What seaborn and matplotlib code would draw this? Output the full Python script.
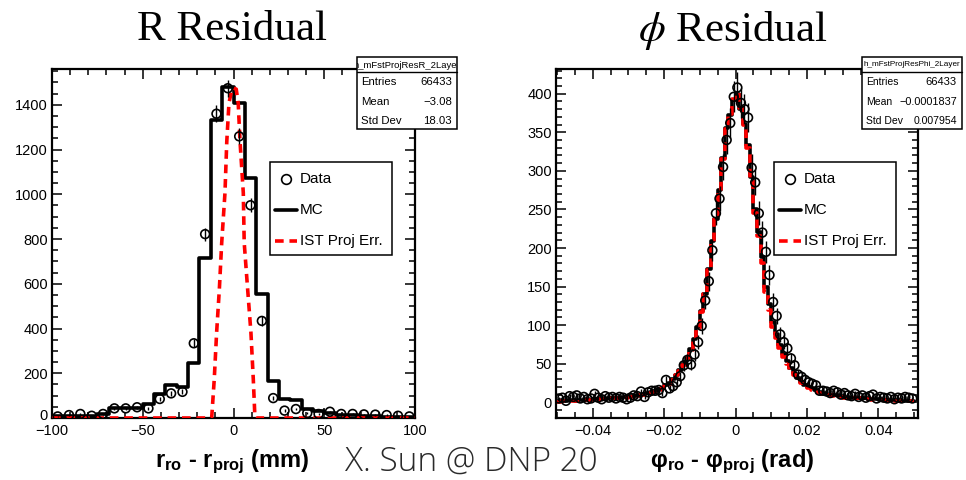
import numpy as np
import pandas as pd
import matplotlib
matplotlib.use("Agg")
import matplotlib.pyplot as plt
import matplotlib.transforms as mtransforms
import seaborn as sns
from matplotlib.patches import Rectangle
from matplotlib.lines import Line2D
from matplotlib.ticker import MultipleLocator, FuncFormatter

# ---------------- data ----------------
# R residual: 32 bins from -100 to 100 mm
r_range = (-100, 100)
r_nbins = 32
r_data = [7, 13, 18, 10, 18, 43, 43, 48, 43, 85, 110, 117, 334, 822, 1360, 1474,
          1259, 951, 434, 89, 33, 40, 22, 18, 28, 18, 18, 16, 15, 13, 10, 7]
r_mc = [8, 8, 8, 10, 18, 45, 45, 45, 62, 107, 147, 140, 248, 716, 1333, 1481,
        1407, 1073, 553, 166, 85, 80, 40, 30, 22, 15, 12, 10, 8, 6, 5, 5]
r_ist_x = [-100, -12.5, -12.0, -10.6, -9.3, -7.8, -6.5, -4.7, -3.7, -2.5, -1.0, 0.0,
           1.5, 2.6, 3.6, 5.4, 5.9, 7.8, 9.6, 10.9, 11.8, 12.3, 100]
r_ist_y = [0, 0, 3, 174, 382, 575, 783, 1006, 1236, 1407, 1467, 1475,
           1470, 1407, 1236, 1006, 783, 575, 382, 174, 3, 0, 0]

# phi residual: 100 bins from -0.05 to 0.05 rad
phi_range = (-0.05, 0.05)
phi_nbins = 100
phi_data = [5, 6, 2, 8, 7, 9, 5, 7, 4, 5,
            11, 6, 4, 8, 6, 7, 5, 7, 6, 4,
            6, 9, 8, 14, 7, 13, 15, 15, 16, 12,
            29, 18, 21, 26, 34, 48, 55, 49, 62, 78,
            99, 132, 157, 197, 245, 264, 305, 340, 362, 396,
            408, 388, 380, 369, 304, 285, 245, 220, 195, 165,
            130, 112, 88, 78, 70, 57, 48, 36, 33, 29,
            26, 24, 22, 15, 15, 14, 12, 15, 13, 10,
            12, 9, 8, 11, 7, 9, 6, 8, 10, 5,
            7, 6, 5, 7, 4, 6, 5, 7, 6, 5]
phi_mc = [2, 3, 2, 3, 3, 2, 3, 3, 4, 3,
          4, 4, 5, 4, 5, 6, 5, 6, 7, 7,
          8, 8, 9, 10, 11, 12, 13, 15, 17, 19,
          22, 25, 30, 36, 42, 50, 58, 69, 82, 97,
          118, 141, 173, 209, 238, 275, 317, 355, 373, 392,
          400, 380, 361, 333, 292, 250, 221, 188, 150, 127,
          104, 89, 74, 62, 53, 45, 38, 32, 27, 23,
          20, 18, 16, 14, 12, 11, 10, 9, 9, 8,
          7, 7, 6, 6, 5, 5, 5, 4, 4, 4,
          4, 3, 3, 3, 3, 3, 2, 2, 2, 2]
phi_ist = [1, 2, 2, 2, 2, 2, 2, 3, 3, 3,
           3, 3, 4, 4, 4, 5, 5, 5, 6, 6,
           7, 7, 8, 9, 10, 11, 12, 14, 16, 18,
           21, 24, 29, 35, 41, 49, 57, 68, 81, 96,
           117, 140, 172, 208, 238, 274, 316, 354, 374, 393,
           401, 382, 360, 330, 288, 246, 215, 180, 143, 120,
           98, 84, 70, 59, 50, 42, 36, 30, 25, 21,
           18, 16, 14, 12, 11, 10, 9, 8, 8, 7,
           6, 6, 5, 5, 5, 4, 4, 4, 3, 3,
           3, 3, 3, 2, 2, 2, 2, 2, 2, 2]

r_stats = [("Entries", "66433"), ("Mean", "\u22123.08"), ("Std Dev", "18.03")]
phi_stats = [("Entries", "66433"), ("Mean", "\u22120.0001837"), ("Std Dev", "0.007954")]
legend_labels = ["Data", "MC", "IST Proj Err."]

# ---------------- style ----------------
sns.set_theme(style="ticks")
plt.rcParams["font.family"] = ["Liberation Sans", "DejaVu Sans"]
plt.rcParams["mathtext.fontset"] = "custom"
plt.rcParams["mathtext.rm"] = "Liberation Sans"
plt.rcParams["mathtext.bf"] = "Liberation Sans:bold"
plt.rcParams["mathtext.it"] = "Liberation Sans:italic"
plt.rcParams["axes.unicode_minus"] = True
plt.rcParams["text.color"] = "black"
plt.rcParams["xtick.color"] = "black"
plt.rcParams["ytick.color"] = "black"
plt.rcParams["axes.edgecolor"] = "black"

W, H = 966, 480
fig = plt.figure(figsize=(W / 100, H / 100), dpi=100)
fig.patch.set_facecolor("white")


def fx(px):
    return px / W


def fy(py):
    return 1 - py / H


axL = fig.add_axes([fx(52), fy(418), (415 - 52) / W, (418 - 69) / H])
axR = fig.add_axes([fx(556), fy(418), (918 - 556) / W, (418 - 69) / H])

RED = "#ff0000"
DASH = (0, (2.4, 1.6))


def draw_hist(ax, edges, data, mc, ist_step=None, ist_xy=None, ms=36):
    centers = 0.5 * (edges[:-1] + edges[1:])
    bins = [float(e) for e in edges]
    df = pd.DataFrame({"x": centers, "mc": np.asarray(mc, float),
                       "data": np.asarray(data, float)})
    sns.histplot(data=df, x="x", weights="mc", bins=bins, element="step", fill=False,
                 color="black", linewidth=2.6, ax=ax, zorder=2)
    if ist_step is not None:
        df["ist"] = np.asarray(ist_step, float)
        sns.histplot(data=df, x="x", weights="ist", bins=bins, element="step", fill=False,
                     color=RED, linewidth=2.6, linestyle=DASH, ax=ax, zorder=3)
    if ist_xy is not None:
        dfl = pd.DataFrame({"x": ist_xy[0], "y": ist_xy[1]})
        sns.lineplot(data=dfl, x="x", y="y", sort=False, color=RED, linewidth=2.6,
                     linestyle=DASH, ax=ax, zorder=3)
    ax.errorbar(df["x"], df["data"], yerr=np.sqrt(df["data"]), fmt="none", ecolor="black",
                elinewidth=1.0, zorder=4)
    sns.scatterplot(data=df, x="x", y="data", marker="o", s=ms, facecolor="none",
                    edgecolor="black", linewidth=1.2, ax=ax, zorder=5)


r_edges = np.linspace(r_range[0], r_range[1], r_nbins + 1)
phi_edges = np.linspace(phi_range[0], phi_range[1], phi_nbins + 1)

draw_hist(axL, r_edges, r_data, r_mc, ist_xy=(r_ist_x, r_ist_y), ms=40)
draw_hist(axR, phi_edges, phi_data, phi_mc, ist_step=phi_ist, ms=40)

fmt = FuncFormatter(lambda v, p: f"{v:g}".replace("-", "\u2212"))

axL.set_xlim(-100, 100)
axL.set_ylim(0, 1560)
axL.xaxis.set_major_locator(MultipleLocator(50))
axL.xaxis.set_minor_locator(MultipleLocator(10))
axL.yaxis.set_major_locator(MultipleLocator(200))
axL.yaxis.set_minor_locator(MultipleLocator(50))

axR.set_xlim(-0.0503, 0.0511)
axR.set_ylim(-20.3, 432)
axR.xaxis.set_major_locator(MultipleLocator(0.02))
axR.xaxis.set_minor_locator(MultipleLocator(0.005))
axR.yaxis.set_major_locator(MultipleLocator(50))
axR.yaxis.set_minor_locator(MultipleLocator(10))

for ax in (axL, axR):
    ax.set_xlabel("")
    ax.set_ylabel("")
    ax.xaxis.set_major_formatter(fmt)
    ax.yaxis.set_major_formatter(fmt)
    ax.tick_params(which="both", direction="in", top=True, right=True,
                   width=1.1, color="black", labelcolor="black", labelsize=10.5)
    ax.tick_params(which="major", length=7.5, pad=3)
    ax.tick_params(which="minor", length=4)
    ax.tick_params(axis="x", pad=4.5)
    for s in ax.spines.values():
        s.set_linewidth(1.6)
        s.set_color("black")
    ax.set_facecolor("white")


# ---------------- legends (drawn as boxes) ----------------
def draw_legend(x0):
    fig.patches.append(Rectangle((fx(x0), fy(255)), 122 / W, (255 - 162) / H,
                                 transform=fig.transFigure, facecolor="white",
                                 edgecolor="black", linewidth=1.1, zorder=10))
    fig.lines.append(Line2D([fx(x0 + 16)], [fy(179)], marker="o", markersize=7,
                            markerfacecolor="none", markeredgecolor="black",
                            markeredgewidth=1.2, transform=fig.transFigure, zorder=11))
    fig.lines.append(Line2D([fx(x0 + 5), fx(x0 + 27)], [fy(210), fy(210)], color="black",
                            linewidth=2.6, transform=fig.transFigure, zorder=11))
    fig.lines.append(Line2D([fx(x0 + 5), fx(x0 + 27)], [fy(241), fy(241)], color=RED,
                            linewidth=2.6, linestyle=DASH,
                            transform=fig.transFigure, zorder=11))
    for lab, yy in zip(legend_labels, (179, 210, 241)):
        fig.text(fx(x0 + 30), fy(yy), lab, fontsize=11, va="center", ha="left", zorder=12)


draw_legend(270)
draw_legend(774)


# ---------------- stat boxes ----------------
def draw_stats(x0, x1, name, rows, namesize, labsize, valsizes):
    top, div, bot = 57.5, 71.5, 128.5
    rect = Rectangle((fx(x0), fy(bot)), (x1 - x0) / W, (bot - top) / H,
                     transform=fig.transFigure, facecolor="white",
                     edgecolor="black", linewidth=1.1, zorder=10)
    fig.patches.append(rect)
    fig.lines.append(Line2D([fx(x0), fx(x1)], [fy(div), fy(div)], color="black",
                            linewidth=1.0, transform=fig.transFigure, zorder=11))
    t = fig.text(fx((x0 + x1) / 2), fy((top + div) / 2 + 0.5), name, fontsize=namesize,
                 ha="center", va="center", zorder=12)
    t.set_clip_path(rect)
    for (lab, val), yy, vs in zip(rows, (82, 102, 121), valsizes):
        fig.text(fx(x0 + 4), fy(yy), lab, fontsize=labsize, ha="left", va="center", zorder=12)
        fig.text(fx(x1 - 5), fy(yy), val, fontsize=vs, ha="right", va="center", zorder=12)


draw_stats(357, 457, "h_mFstProjResR_2Layer", r_stats, 6.8, 8.2, (8.2, 8.2, 8.2))
draw_stats(862, 962, "h_mFstProjResPhi_2Layer", phi_stats, 5.9, 7.5, (8.0, 7.8, 7.6))

# ---------------- titles and labels ----------------
fig.text(fx(232), fy(40), "R Residual", fontsize=31, family="Liberation Serif",
         ha="center", va="baseline", color="black")
fig.text(fx(733), fy(41), r"$\phi$ Residual", fontsize=31, family="Liberation Serif",
         math_fontfamily="stix", ha="center", va="baseline", color="black")

fig.text(fx(155), fy(467), r"r$_{\mathbf{ro}}$ - r$_{\mathbf{proj}}$ (mm)",
         fontsize=17, fontweight="bold", ha="left", va="baseline")
fig.text(fx(345), fy(471), "X. Sun @ DNP 20", fontsize=24,
         family=["Open Sans", "DejaVu Sans"], fontweight="light", ha="left", va="baseline",
         color="#2a2a2a")
fig.text(fx(650), fy(467), "\u03c6$_{\\mathbf{ro}}$ - \u03c6$_{\\mathbf{proj}}$ (rad)",
         fontsize=17, fontweight="bold", ha="left", va="baseline")

# nudge only the y "0" label of the left panel up a little so it clears the "−100" label
fig.canvas.draw()
for tk in axL.yaxis.get_major_ticks():
    if tk.label1.get_text() == "0":
        tk.label1.set_transform(tk.label1.get_transform() +
                                mtransforms.ScaledTranslation(0, 3 / 100, fig.dpi_scale_trans))

fig.savefig("out.png", dpi=100, facecolor="white")
